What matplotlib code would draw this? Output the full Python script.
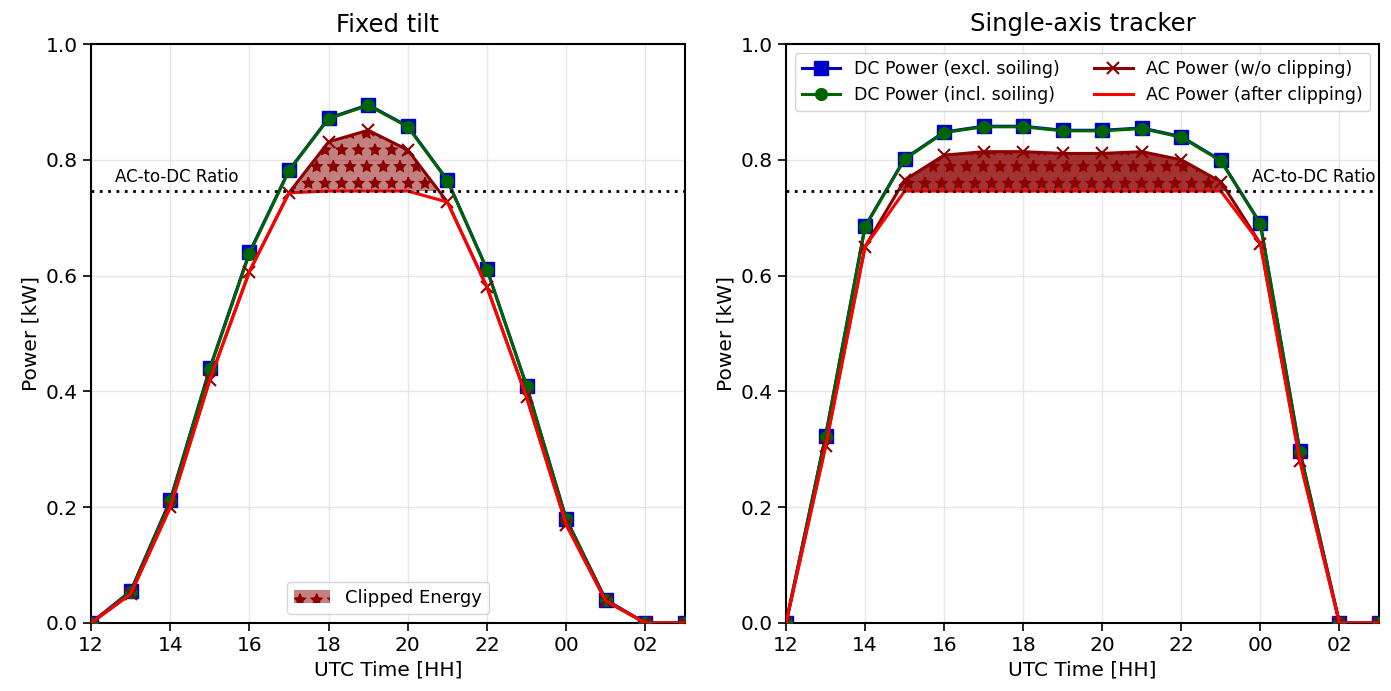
import numpy as np
import matplotlib
matplotlib.use("Agg")
import matplotlib.pyplot as plt
from matplotlib.patches import Patch

plt.rcParams['hatch.color'] = 'darkred'
plt.rcParams['hatch.linewidth'] = 1.0

hours = list(range(12, 28))
tick_pos = [12, 14, 16, 18, 20, 22, 24, 26]
tick_labels = ["12", "14", "16", "18", "20", "22", "00", "02"]
ratio = 0.746

fixed_dc_excl = [0.0, 0.055, 0.212, 0.440, 0.640, 0.782, 0.872, 0.895, 0.858, 0.765, 0.611, 0.410, 0.180, 0.040, 0.0, 0.0]
fixed_dc_incl = [0.0, 0.054, 0.210, 0.438, 0.638, 0.781, 0.871, 0.894, 0.857, 0.764, 0.610, 0.409, 0.179, 0.039, 0.0, 0.0]
fixed_ac_raw = [0.0, 0.050, 0.200, 0.420, 0.607, 0.743, 0.831, 0.851, 0.817, 0.727, 0.580, 0.390, 0.170, 0.038, 0.0, 0.0]

track_dc_excl = [0.0, 0.323, 0.685, 0.802, 0.848, 0.858, 0.858, 0.851, 0.851, 0.855, 0.840, 0.799, 0.690, 0.297, 0.0, 0.0]
track_dc_incl = [0.0, 0.322, 0.684, 0.801, 0.847, 0.857, 0.857, 0.850, 0.850, 0.854, 0.839, 0.798, 0.689, 0.296, 0.0, 0.0]
track_ac_raw = [0.0, 0.305, 0.650, 0.765, 0.808, 0.814, 0.814, 0.811, 0.811, 0.814, 0.800, 0.762, 0.655, 0.280, 0.0, 0.0]

fig = plt.figure(figsize=(13.91, 6.91), dpi=100)
ax1 = fig.add_axes([91/1391, 1-623/691, 594/1391, 579/691])
ax2 = fig.add_axes([786/1391, 1-623/691, 593/1391, 579/691])

def draw(ax, dc_ex, dc_in, ac_raw, title, fill_alpha, legend_kind, text_x, text_ha):
    x = np.array(hours, dtype=float)
    ac_raw = np.array(ac_raw)
    ac_clip = np.minimum(ac_raw, ratio)
    ax.grid(True, color='#e6e6e6', linewidth=1.0)
    ax.set_axisbelow(True)
    ax.fill_between(x, ratio, ac_raw, where=ac_raw > ratio, interpolate=True,
                    facecolor=(0.545, 0.0, 0.0, fill_alpha), edgecolor='darkred',
                    hatch='*', linewidth=0, zorder=2)
    l1, = ax.plot(x, dc_ex, color='#0000cc', marker='s', markersize=9.5, linewidth=2.2, zorder=3,
                  label='DC Power (excl. soiling)')
    l2, = ax.plot(x, dc_in, color='darkgreen', marker='o', markersize=8.5, linewidth=2.2, zorder=4,
                  label='DC Power (incl. soiling)')
    l3, = ax.plot(x, ac_raw, color='darkred', marker='x', markersize=9, markeredgewidth=1.5,
                  linewidth=2.2, zorder=5, label='AC Power (w/o clipping)')
    l4, = ax.plot(x, ac_clip, color='red', linewidth=2.2, zorder=6, label='AC Power (after clipping)')
    ax.axhline(ratio, color='black', linestyle=(0, (1, 2)), linewidth=2, zorder=7)
    ax.text(text_x, ratio + 0.008, 'AC-to-DC Ratio', fontsize=12, ha=text_ha, va='bottom', zorder=8)
    ax.set_xlim(12, 27)
    ax.set_ylim(0, 1.0)
    ax.set_xticks(tick_pos)
    ax.set_xticklabels(tick_labels)
    ax.set_yticks([0.0, 0.2, 0.4, 0.6, 0.8, 1.0])
    ax.tick_params(labelsize=14.5, length=6, width=1.2)
    for s in ax.spines.values():
        s.set_linewidth(1.5)
    ax.set_xlabel('UTC Time [HH]', fontsize=14.5)
    ax.set_ylabel('Power [kW]', fontsize=14.5)
    ax.set_title(title, fontsize=17.5, pad=9)
    if legend_kind == 'clip':
        p = Patch(facecolor=(0.545, 0.0, 0.0, 0.5), edgecolor='darkred', hatch='*', linewidth=0,
                  label='Clipped Energy')
        ax.legend(handles=[p], loc='lower center', fontsize=13, framealpha=0.8,
                  bbox_to_anchor=(0.5, 0.0))
    else:
        ax.legend(handles=[l1, l2, l3, l4], loc='upper center', ncol=2, fontsize=12.5,
                  framealpha=0.8, columnspacing=2.0, handlelength=2.2)

draw(ax1, fixed_dc_excl, fixed_dc_incl, fixed_ac_raw, 'Fixed tilt', 0.5, 'clip', 12.6, 'left')
draw(ax2, track_dc_excl, track_dc_incl, track_ac_raw, 'Single-axis tracker', 0.8, 'lines', 26.9, 'right')

fig.savefig('out.png', dpi=100)
